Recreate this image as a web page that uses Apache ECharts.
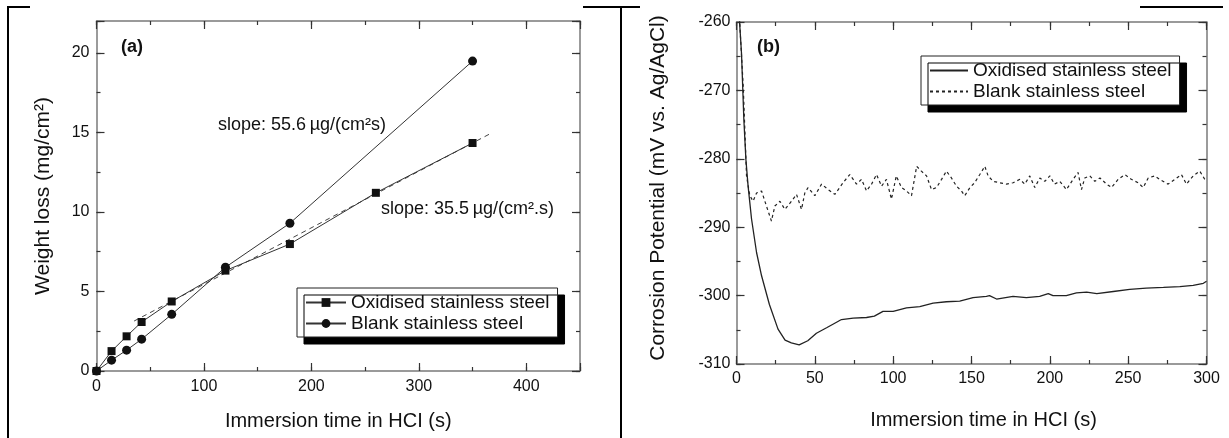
<!DOCTYPE html>
<html lang="en">
<head>
  <meta charset="utf-8">
</head>
<body style="margin: 0; background: #fff">
  <div id="container" style="width: 1229px; height: 438px;"></div>

  <script type="text/javascript" src="https://cdn.jsdelivr.net/npm/echarts@6.0.0/dist/echarts.min.js"></script>
  <script type="text/javascript">

    // panel (a): weight loss vs immersion time
    var oxidisedTime = [0, 14, 28, 42, 70, 120, 180, 260, 350];
    var oxidisedLoss = [0, 1.25, 2.18, 3.08, 4.37, 6.31, 7.98, 11.2, 14.33];
    var blankTime = [0, 14, 28, 42, 70, 120, 180, 350];
    var blankLoss = [0, 0.68, 1.31, 2.0, 3.56, 6.52, 9.29, 19.48];
    // dashed linear fit for the oxidised samples (end points)
    var fitTime = [35, 366];
    var fitLoss = [3.14, 14.9];

    // panel (b): corrosion potential vs immersion time
    var oxTime = [1, 2, 3.2, 4.7, 6, 7.4, 9.6, 12.8, 16, 21, 26.5, 31, 35, 40, 45.5, 51, 57.5, 63, 67, 74.5,
      83, 88, 93.5, 100, 108.5, 117, 125.5, 134, 142.5, 151, 159.5, 161.5, 166, 176.5, 185, 193.5, 199, 202,
      210.5, 217, 223.5, 230, 240.5, 251, 261.5, 272.5, 283, 291.5, 298, 300];
    var oxPotential = [-255, -260.2, -264.6, -274.3, -280.1, -284, -288.8, -293.7, -297.1, -301.3,
      -304.9, -306.5, -306.9, -307.2, -306.6, -305.5, -304.7, -304, -303.5, -303.3,
      -303.2, -303, -302.3, -302.3, -301.8, -301.6, -301.1, -300.9, -300.8, -300.3,
      -300.1, -300, -300.5, -300.1, -300.3, -300.1, -299.7, -300, -300, -299.6,
      -299.5, -299.7, -299.4, -299.1, -298.9, -298.8, -298.7, -298.5, -298.2, -297.9];

    var blTime = [1, 2.5, 4.3, 6.4, 8.5, 10.6, 12.8, 16, 19.1, 22.3,
      24.5, 27.7, 30.9, 35.1, 38.3, 41.5, 43.6, 45.7, 50, 54.3,
      58.5, 62.8, 68, 72.3, 76.6, 79.8, 83, 86.2, 89.4, 92.6,
      95.7, 98.9, 102, 105.3, 108.5, 111.7, 115, 118, 121.3, 124.5,
      127.7, 130.9, 134, 137.2, 140.4, 143.6, 145.7, 149, 152, 155.3,
      158.5, 160.6, 163.8, 168, 172.3, 176.6, 180.9, 184, 187.2, 190.4,
      193.6, 196.8, 200, 203, 206.4, 210.6, 214.9, 218, 220.2, 222.3,
      225.5, 228.7, 232, 236.2, 239.4, 243.6, 247.9, 252, 256.4, 259.6,
      262.8, 267, 270, 275.5, 279.8, 284, 287.2, 291.5, 295.7, 298.9, 300];
    var blPotential = [-255, -262, -269.4, -282.5, -285.4, -286.2, -285, -284.7, -286.9, -289.1,
      -286.9, -286.2, -287.4, -286.2, -285.2, -287.4, -285, -284.2, -285.4, -283.7,
      -284.5, -285.2, -283.5, -282.3, -283.7, -283, -284.7, -283.7, -282.3, -284,
      -283, -285.9, -282.5, -284.2, -284.7, -285.4, -281.1, -281.8, -282.5, -284.5,
      -284.2, -283, -281.8, -282.8, -284, -284.7, -285.4, -284.2, -283.5, -282.3,
      -281.1, -282.5, -283.3, -283.5, -283.7, -283.5, -283, -283.7, -282.5, -284.2,
      -282.8, -283.3, -282.5, -283.7, -283.3, -284.5, -283, -282, -284.5, -282.8,
      -282.5, -283.3, -282.8, -283.7, -284.2, -283, -282.3, -283, -283.5, -284.2,
      -282.8, -282.5, -283, -283.7, -283, -282.3, -283.7, -282.5, -281.8, -283, -283.2];

    var seriesNames = ['Oxidised stainless steel', 'Blank stainless steel'];

    var FONT = '"Liberation Sans", Arial, sans-serif';
    var FRAME = '#7a7a7a';
    var INK = '#222';

    function zip(xs, ys) {
      return xs.map(function (x, i) { return [x, ys[i]]; });
    }

    function labelFmt(step) {
      return function (v) {
        return Math.abs(v % step) < 1e-9 ? String(v) : '';
      };
    }

    // builds major + minor axes on both sides of one grid, so the box has inward ticks all round
    function makeAxes(dim, grid, min, max, major, minor, name, gap, labelMargin, namePad) {
      var sides = dim === 'x' ? ['bottom', 'top'] : ['left', 'right'];
      var list = [];
      sides.forEach(function (side, s) {
        list.push({
          gridIndex: grid, type: 'value', position: side, min: min, max: max, interval: major,
          name: s === 0 ? name : '', nameLocation: 'middle', nameGap: gap,
          nameTextStyle: { fontFamily: FONT, fontSize: dim === 'x' ? 20 : 21, color: '#111', padding: namePad || 0 },
          axisLine: { show: true, onZero: false, lineStyle: { color: FRAME, width: 1.5 } },
          axisTick: { inside: true, length: 8, lineStyle: { color: '#333', width: 1.2 } },
          axisLabel: { show: s === 0, fontFamily: FONT, fontSize: 16, color: '#111', margin: labelMargin,
            formatter: labelFmt(major) },
          splitLine: { show: false }
        });
        list.push({
          gridIndex: grid, type: 'value', position: side, min: min, max: max, interval: minor,
          axisLine: { show: false, onZero: false },
          axisTick: { inside: true, length: 4, lineStyle: { color: '#333', width: 1.2 } },
          axisLabel: { show: false },
          splitLine: { show: false }
        });
      });
      return list;
    }

    var xAxes = makeAxes('x', 0, 0, 450, 100, 50, 'Immersion time in HCI (s)', 40, 8)
      .concat(makeAxes('x', 1, 0, 300, 50, 25, 'Immersion time in HCI (s)', 46, 7, [0, 0, 0, 24]));
    var yAxes = makeAxes('y', 0, 0, 22, 5, 2.5, 'Weight loss (mg/cm\u00b2)', 43, 7)
      .concat(makeAxes('y', 1, -310, -260, 10, 5, 'Corrosion Potential (mV vs. Ag/AgCl)', 68, 6, [0, 0, 0, 10]));

    function legendBox(left, top, width, names, hideSymbol) {
      return {
        data: names,
        orient: 'vertical', left: left, top: top,
        itemWidth: width, itemHeight: 11, itemGap: 2,
        padding: [5, 8, 4, 8],
        backgroundColor: '#fff', borderColor: '#222', borderWidth: 1,
        shadowColor: '#000', shadowBlur: 0, shadowOffsetX: 7, shadowOffsetY: 7,
        selectedMode: false,
        itemStyle: hideSymbol ? { color: 'rgba(0,0,0,0)', borderWidth: 0, opacity: 0 } : {},
        formatter: function (n) { return n.replace(' (b)', ''); },
        textStyle: { fontFamily: FONT, fontSize: 19, color: '#111' }
      };
    }

    var dom = document.getElementById('container');
    var myChart = echarts.init(dom, null, { renderer: 'canvas' });

    var option = {
      backgroundColor: '#fff',
      animation: false,
      grid: [
        { left: 96.5, top: 21, width: 483.5, height: 350 },
        { left: 736.5, top: 22, width: 470, height: 342 }
      ],
      xAxis: xAxes,
      yAxis: yAxes,
      legend: [
        legendBox(297, 288, 40, seriesNames, false),
        legendBox(921, 56, 38, [seriesNames[0] + ' (b)', seriesNames[1] + ' (b)'], true)
      ],
      series: [
        {
          name: seriesNames[0], type: 'line', xAxisIndex: 0, yAxisIndex: 0,
          data: zip(oxidisedTime, oxidisedLoss),
          symbol: 'rect', symbolSize: 8,
          itemStyle: { color: '#111' },
          lineStyle: { color: '#333', width: 1 }, z: 3
        },
        {
          name: seriesNames[1], type: 'line', xAxisIndex: 0, yAxisIndex: 0,
          data: zip(blankTime, blankLoss),
          symbol: 'circle', symbolSize: 9,
          itemStyle: { color: '#111' },
          lineStyle: { color: '#333', width: 1 }, z: 3
        },
        {
          name: 'fit', type: 'line', xAxisIndex: 0, yAxisIndex: 0,
          data: zip(fitTime, fitLoss),
          symbol: 'none',
          lineStyle: { color: '#444', width: 1, type: [5, 4] }, z: 2
        },
        {
          name: seriesNames[0] + ' (b)', type: 'line', xAxisIndex: 4, yAxisIndex: 4,
          data: zip(oxTime, oxPotential),
          symbol: 'none',
          itemStyle: { color: INK },
          lineStyle: { color: INK, width: 1.3 }
        },
        {
          name: seriesNames[1] + ' (b)', type: 'line', xAxisIndex: 4, yAxisIndex: 4,
          data: zip(blTime, blPotential),
          symbol: 'none',
          itemStyle: { color: INK },
          lineStyle: { color: INK, width: 1.2, type: [3, 3] }
        }
      ],
      graphic: [
        // table borders around the two panels
        { type: 'line', shape: { x1: 8, y1: 7, x2: 8, y2: 438 }, style: { stroke: '#000', lineWidth: 2 } },
        { type: 'line', shape: { x1: 621, y1: 7, x2: 621, y2: 438 }, style: { stroke: '#000', lineWidth: 2 } },
        { type: 'line', shape: { x1: 7, y1: 7, x2: 30, y2: 7 }, style: { stroke: '#000', lineWidth: 2 } },
        { type: 'line', shape: { x1: 583, y1: 7, x2: 640, y2: 7 }, style: { stroke: '#000', lineWidth: 2 } },
        { type: 'line', shape: { x1: 1140, y1: 7, x2: 1223, y2: 7 }, style: { stroke: '#000', lineWidth: 2 } },
        // panel labels and slope notes
        { type: 'text', x: 121, y: 47, style: { text: '(a)', font: 'bold 18px ' + FONT, fill: '#111', verticalAlign: 'middle' } },
        { type: 'text', x: 757, y: 47, style: { text: '(b)', font: 'bold 18px ' + FONT, fill: '#111', verticalAlign: 'middle' } },
        { type: 'text', x: 218, y: 125, style: { text: 'slope: 55.6\u2009\u00b5g/(cm\u00b2s)', font: '18px ' + FONT, fill: '#111', verticalAlign: 'middle' } },
        { type: 'text', x: 381, y: 209, style: { text: 'slope: 35.5\u2009\u00b5g/(cm\u00b2.s)', font: '18px ' + FONT, fill: '#111', verticalAlign: 'middle' } }
      ]
    };

    myChart.setOption(option);
    window.addEventListener('resize', myChart.resize);
  </script>
</body>
</html>
